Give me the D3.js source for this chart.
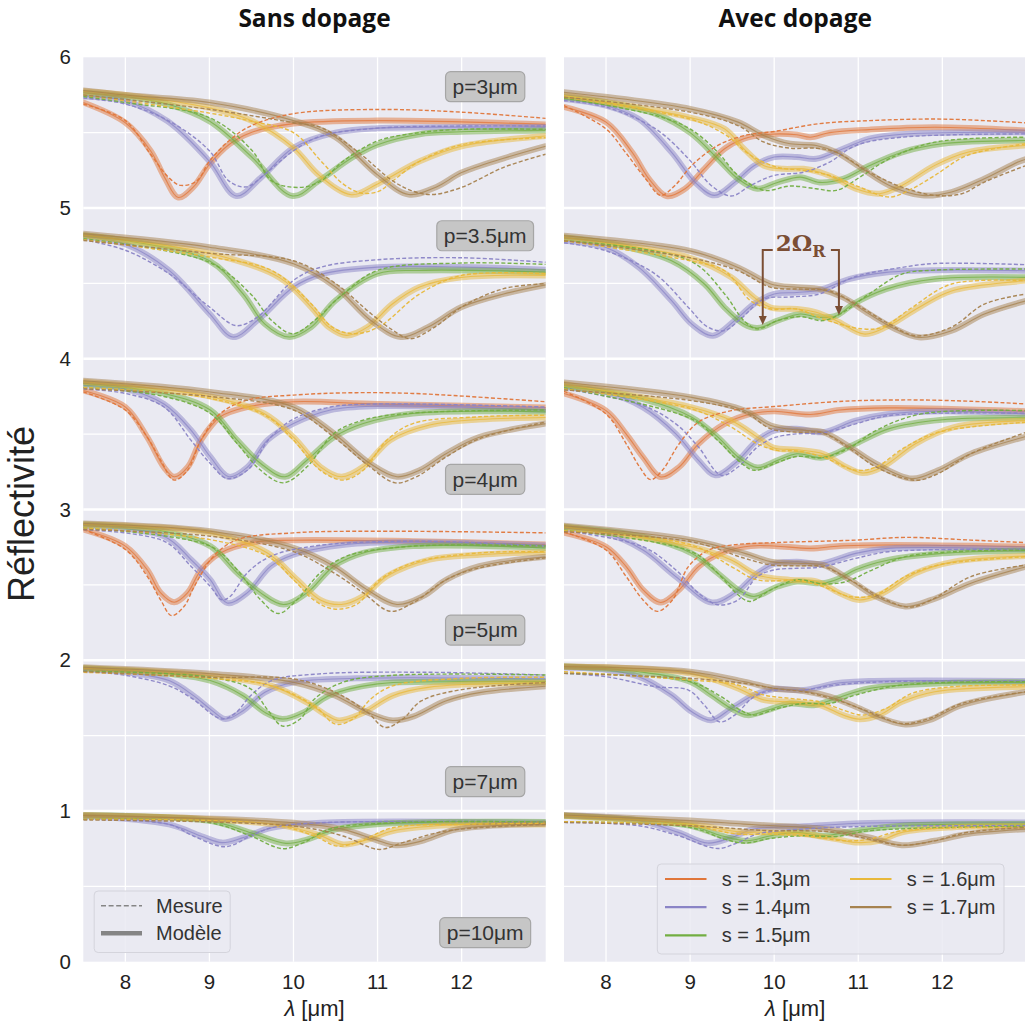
<!DOCTYPE html>
<html><head><meta charset="utf-8">
<script src="https://cdn.jsdelivr.net/npm/d3@7"></script>
<style>body{margin:0;background:#fff}</style>
</head><body>
<svg id="c" width="1025" height="1026" xmlns="http://www.w3.org/2000/svg"></svg>
<script>
// ---------- categories / labels ----------
const sValues = ["s = 1.3μm","s = 1.4μm","s = 1.5μm","s = 1.6μm","s = 1.7μm"];
const colors = ["#e0763a","#8a84c6","#72ae42","#e8b83a","#a6824f"];
const pLabels = ["p=3μm","p=3.5μm","p=4μm","p=5μm","p=7μm","p=10μm"];
const offsets = [5,4,3,2,1,0];
const labelY = [5.805,4.816,3.2,2.2,1.194,0.193];
const labelX = 12.28;
const xTicks = [8,9,10,11,12];
const yTicks = [0,1,2,3,4,5,6];
const panelTitles = ["Sans dopage","Avec dopage"];
const rabiX = [9.864, 10.77];
const rabiTipY = [4.224, 4.29];
const rabiTopY = 4.722;

// ---------- data: flat [λ, R, λ, R, ...] per s (1.3..1.7); null = absent ----------
// Sans dopage
const sans_p3_mod = [
 [7.5,.70, 8,.566, 8.3,.38, 8.47,.20, 8.63,.07, 8.81,.14, 9.0,.29, 9.23,.42, 9.49,.50, 10,.56, 11,.58, 13,.555],
 [7.5,.74, 8,.71, 8.5,.577, 9.0,.31, 9.32,.08, 9.61,.20, 10,.40, 10.5,.50, 11,.53, 12,.537, 13,.537],
 [7.5,.765, 8,.74, 8.5,.69, 9,.577, 9.51,.335, 9.99,.08, 10.3,.18, 10.7,.335, 11,.42, 11.5,.49, 12,.506, 13,.515],
 [7.5,.775, 8,.75, 9,.665, 9.51,.577, 10,.40, 10.3,.22, 10.69,.088, 11,.16, 11.5,.31, 12,.41, 13,.478],
 [7.5,.78, 8,.75, 9,.70, 10,.58, 10.5,.47, 11,.22, 11.37,.09, 11.7,.14, 12,.235, 12.5,.33, 13,.41]];
const sans_p3_mes = [
 [7.5,.69, 8,.58, 8.3,.357, 8.52,.20, 8.66,.15, 8.85,.18, 9.0,.31, 9.23,.445, 9.49,.544, 10,.626, 11,.654, 12,.636, 13,.595],
 [7.5,.73, 8,.69, 8.52,.577, 9.0,.38, 9.23,.18, 9.44,.14, 9.66,.225, 10,.38, 10.33,.478, 11,.53, 12,.544, 13,.544],
 [7.5,.74, 8,.70, 9,.60, 9.51,.38, 9.74,.18, 10.08,.137, 10.33,.18, 10.59,.31, 11,.445, 11.5,.50, 12,.522, 13,.522],
 [7.5,.75, 9,.63, 9.49,.577, 10,.50, 10.33,.31, 10.59,.16, 10.8,.10, 11.01,.11, 11.18,.18, 11.5,.31, 12,.42, 13,.467],
 [7.5,.75, 9,.655, 10,.566, 10.33,.533, 10.75,.38, 11.18,.18, 11.43,.11, 11.66,.09, 12,.137, 12.5,.27, 13,.357]];
const sans_p35_mod = [null,
 [7.5,.81, 8,.76, 8.52,.586, 9.0,.30, 9.28,.144, 9.57,.254, 10,.476, 10.33,.56, 11,.608, 12,.608, 13,.59],
 [7.5,.82, 8,.785, 9,.65, 9.40,.43, 9.66,.23, 9.95,.144, 10.21,.21, 10.5,.387, 11,.564, 11.5,.586, 13,.575],
 [7.5,.82, 9,.70, 9.83,.54, 10.21,.343, 10.42,.21, 10.63,.155, 10.88,.21, 11.18,.365, 11.5,.476, 12,.54, 13,.553],
 [7.5,.83, 9,.74, 10,.63, 10.5,.476, 10.92,.254, 11.28,.144, 11.6,.21, 12,.343, 12.5,.43, 13,.49]];
const sans_p35_mes = [null,
 [7.5,.79, 8,.72, 8.52,.564, 9,.343, 9.32,.22, 9.57,.277, 10,.52, 10.33,.608, 11,.657, 12,.67, 13,.64],
 [7.5,.796, 9,.64, 9.49,.43, 9.74,.254, 9.99,.166, 10.25,.254, 10.59,.43, 11,.586, 12,.635, 13,.626],
 [7.5,.79, 9,.675, 9.74,.586, 10.21,.365, 10.46,.21, 10.71,.166, 11.01,.21, 11.5,.43, 12,.553, 13,.564],
 [7.5,.785, 9,.70, 10,.65, 10.5,.50, 10.92,.30, 11.18,.19, 11.39,.133, 11.68,.21, 12,.343, 12.5,.465, 13,.498]];
const sans_p4_mod = [
 [7.5,.79, 8,.68, 8.26,.48, 8.46,.28, 8.58,.217, 8.74,.28, 8.90,.46, 9.13,.615, 9.45,.68, 10,.715, 11,.70, 13,.677],
 [7.5,.825, 8,.80, 8.46,.70, 8.78,.527, 9.01,.35, 9.23,.217, 9.45,.28, 9.69,.46, 10,.57, 10.44,.66, 11,.686, 13,.66],
 [7.5,.836, 8.46,.77, 9.01,.66, 9.33,.46, 9.61,.305, 9.90,.217, 10.16,.327, 10.48,.48, 10.83,.57, 11.42,.637, 13,.648],
 [7.5,.847, 9.01,.75, 9.65,.637, 10,.48, 10.32,.283, 10.57,.217, 10.83,.283, 11.15,.46, 11.62,.56, 12.21,.597, 13,.61],
 [7.5,.854, 9.01,.78, 10,.68, 10.48,.504, 10.91,.305, 11.23,.217, 11.50,.26, 11.82,.372, 12.21,.48, 13,.57]];
const sans_p4_mes = [
 [7.5,.78, 8,.66, 8.26,.48, 8.42,.327, 8.58,.195, 8.74,.26, 8.90,.46, 9.13,.637, 9.45,.726, 10,.759, 10.63,.774, 11.42,.77, 13,.715],
 [7.5,.80, 8,.77, 8.46,.68, 8.78,.46, 9.01,.305, 9.21,.206, 9.45,.26, 9.73,.48, 10,.60, 10.44,.68, 11,.70, 13,.68],
 [7.5,.81, 8.46,.75, 9.01,.637, 9.33,.438, 9.61,.26, 9.88,.177, 10.16,.283, 10.48,.504, 10.83,.593, 11.42,.64, 13,.66],
 [7.5,.81, 9.01,.737, 9.69,.615, 10,.46, 10.32,.26, 10.59,.195, 10.83,.26, 11.11,.46, 11.42,.57, 12.21,.615, 13,.626],
 [7.5,.80, 9.01,.75, 10,.66, 10.48,.48, 10.91,.283, 11.21,.177, 11.46,.217, 11.82,.35, 12.21,.47, 13,.58]];
const sans_p5_mod = [
 [7.5,.867, 8,.757, 8.26,.60, 8.42,.447, 8.58,.385, 8.74,.447, 8.90,.60, 9.13,.712, 9.53,.783, 10,.796, 11.42,.79, 13,.768],
 [7.5,.894, 8.46,.823, 8.78,.668, 9.01,.535, 9.21,.38, 9.45,.447, 9.73,.624, 10,.70, 10.63,.768, 11.42,.783, 13,.761],
 [7.5,.90, 8.46,.856, 9.01,.757, 9.33,.58, 9.61,.447, 9.88,.37, 10.16,.447, 10.48,.624, 10.83,.712, 11.42,.757, 13,.745],
 [7.5,.90, 9.01,.845, 9.69,.712, 10.04,.535, 10.32,.40, 10.57,.37, 10.83,.425, 11.11,.557, 11.62,.668, 12.21,.70, 13,.717],
 [7.5,.907, 9.01,.856, 10,.746, 10.48,.624, 10.87,.47, 11.23,.37, 11.54,.425, 11.82,.535, 12.21,.624, 13,.686]];
const sans_p5_mes = [
 [7.5,.867, 8,.735, 8.26,.557, 8.42,.40, 8.55,.296, 8.70,.358, 8.82,.49, 9.05,.69, 9.33,.80, 10,.845, 11,.856, 13,.845],
 [7.5,.867, 8.46,.79, 8.78,.624, 9.01,.49, 9.15,.40, 9.25,.425, 9.45,.58, 9.73,.69, 10.24,.757, 11.42,.79, 13,.757],
 [7.5,.878, 9.01,.757, 9.33,.60, 9.61,.40, 9.82,.31, 10.04,.40, 10.32,.58, 10.63,.69, 11.42,.757, 13,.757],
 [7.5,.878, 9.01,.80, 9.69,.69, 10,.535, 10.24,.40, 10.48,.34, 10.75,.37, 11.03,.535, 11.42,.646, 12.21,.712, 13,.72],
 [7.5,.867, 9.01,.823, 10,.72, 10.48,.58, 10.83,.447, 11.15,.325, 11.42,.38, 11.82,.535, 12.21,.613, 13,.68]];
const sans_p7_mod = [null,
 [7.5,.938, 8,.92, 8.52,.865, 8.81,.765, 9.01,.676, 9.19,.61, 9.40,.665, 9.66,.787, 10,.854, 10.75,.88, 13,.876],
 [7.5,.947, 8.52,.91, 9.01,.865, 9.40,.765, 9.66,.654, 9.87,.61, 10.12,.654, 10.42,.765, 11,.843, 12,.858, 13,.858],
 [7.5,.947, 9.01,.898, 9.74,.83, 10.16,.72, 10.37,.643, 10.54,.60, 10.80,.643, 11.18,.765, 11.60,.82, 13,.85],
 [7.5,.953, 9.01,.91, 10,.854, 10.50,.765, 10.88,.654, 11.18,.60, 11.43,.628, 11.81,.73, 12.23,.787, 13,.827]];
const sans_p7_mes = [null,
 [7.5,.93, 8,.90, 8.52,.83, 8.81,.74, 9.06,.63, 9.17,.61, 9.32,.654, 9.49,.765, 9.74,.865, 10.33,.91, 11.6,.92, 13,.902],
 [7.5,.927, 9.01,.887, 9.49,.81, 9.70,.665, 9.87,.563, 10.08,.61, 10.25,.743, 10.59,.854, 11.18,.90, 13,.902],
 [7.5,.92, 9.01,.88, 9.74,.83, 10.25,.696, 10.50,.576, 10.71,.61, 10.92,.743, 11.18,.83, 12.02,.88, 13,.887],
 [7.5,.925, 9.01,.887, 10,.876, 10.50,.787, 10.88,.654, 11.09,.554, 11.30,.61, 11.52,.73, 12.02,.807, 13,.852]];
const sans_p10_mod = [null,
 [7.5,.967, 8.52,.911, 8.90,.834, 9.15,.79, 9.40,.823, 9.74,.889, 10.33,.922, 13,.922],
 [7.5,.971, 9.01,.934, 9.49,.856, 9.91,.785, 10.16,.81, 10.50,.878, 11.18,.918, 13,.927],
 [7.5,.971, 9.01,.945, 9.91,.90, 10.33,.834, 10.59,.778, 10.88,.81, 11.18,.867, 11.81,.905, 13,.911],
 [7.5,.971, 10,.922, 10.59,.878, 10.97,.81, 11.22,.772, 11.52,.80, 11.94,.878, 13,.916]];
const sans_p10_mes = [null,
 [7.5,.945, 8.52,.911, 8.81,.834, 9.19,.763, 9.49,.834, 9.74,.889, 10.33,.922, 13,.927],
 [7.5,.945, 9.01,.922, 9.49,.834, 9.87,.75, 10.12,.79, 10.42,.878, 11.18,.922, 13,.927],
 [7.5,.945, 9.74,.911, 10.25,.834, 10.52,.767, 10.80,.80, 11.18,.889, 12.02,.911, 13,.918],
 [7.5,.94, 10,.90, 10.59,.834, 11.01,.745, 11.30,.79, 11.81,.867, 13,.911]];

// Avec dopage
const avec_p3_mod = [
 [7.5,.67, 8,.57, 8.31,.37, 8.51,.194, 8.72,.08, 8.94,.128, 9.17,.26, 9.41,.393, 9.64,.46, 9.96,.49, 10.27,.486, 10.43,.47, 10.66,.50, 11.13,.52, 11.91,.536, 13,.514],
 [7.5,.724, 8,.68, 8.39,.59, 8.78,.37, 9.06,.17, 9.29,.084, 9.53,.17, 9.76,.28, 10,.338, 10.27,.338, 10.50,.327, 10.82,.393, 11.13,.46, 11.52,.49, 13,.503],
 [7.5,.735, 8,.70, 8.59,.625, 9,.50, 9.33,.327, 9.57,.194, 9.80,.128, 10.04,.17, 10.31,.205, 10.54,.17, 10.82,.194, 11.13,.28, 11.52,.37, 12,.426, 13,.448],
 [7.5,.746, 9,.60, 9.41,.525, 9.64,.393, 9.88,.28, 10.11,.26, 10.35,.26, 10.54,.238, 10.74,.194, 10.97,.128, 11.25,.095, 11.52,.15, 11.91,.283, 12.30,.37, 13,.415],
 [7.5,.768, 9,.658, 9.57,.57, 9.88,.48, 10.19,.426, 10.50,.415, 10.74,.37, 11.05,.26, 11.37,.15, 11.76,.084, 12.11,.106, 12.5,.194, 12.9,.305, 13,.325]];
const avec_p3_mes = [
 [7.5,.68, 8,.525, 8.23,.37, 8.47,.194, 8.65,.084, 8.82,.15, 9.02,.283, 9.33,.415, 9.64,.48, 10,.508, 10.54,.56, 11.13,.58, 12,.59, 13,.565],
 [7.5,.713, 8,.67, 8.59,.525, 8.98,.327, 9.25,.15, 9.49,.08, 9.72,.15, 10,.216, 10.35,.238, 10.66,.305, 10.97,.415, 11.52,.47, 13,.492],
 [7.5,.73, 8.59,.614, 9,.525, 9.33,.37, 9.57,.216, 9.88,.117, 10.19,.146, 10.50,.128, 10.74,.117, 11.05,.216, 11.37,.327, 11.91,.437, 13,.47],
 [7.5,.735, 9,.59, 9.41,.49, 9.72,.35, 10.04,.27, 10.35,.25, 10.66,.216, 10.97,.15, 11.37,.073, 11.64,.128, 11.91,.216, 12.30,.35, 13,.426],
 [7.5,.735, 9,.636, 9.57,.547, 9.88,.437, 10.19,.397, 10.50,.397, 10.74,.37, 11.13,.238, 11.52,.139, 11.91,.084, 12.23,.095, 12.5,.172, 13,.283]];
const avec_p35_mod = [null,
 [7.5,.783, 8,.738, 8.39,.606, 8.78,.385, 9.02,.23, 9.27,.153, 9.53,.253, 9.76,.363, 10,.43, 10.27,.44, 10.54,.456, 10.90,.53, 11.33,.573, 11.91,.588, 13,.584],
 [7.5,.805, 8,.77, 8.78,.65, 9.17,.496, 9.41,.34, 9.64,.23, 9.80,.204, 10.04,.253, 10.31,.297, 10.54,.275, 10.74,.286, 10.94,.363, 11.33,.462, 11.91,.529, 13,.54],
 [7.5,.805, 9,.67, 9.49,.54, 9.76,.407, 9.96,.34, 10.27,.33, 10.50,.308, 10.74,.253, 11.07,.164, 11.33,.21, 11.72,.34, 12.11,.45, 13,.518],
 [7.5,.816, 9,.716, 9.57,.606, 9.96,.496, 10.27,.474, 10.54,.462, 10.82,.407, 11.13,.297, 11.44,.198, 11.72,.142, 12.11,.186, 12.5,.297, 13,.385]];
const avec_p35_mes = [null,
 [7.5,.77, 8,.716, 8.59,.56, 8.98,.34, 9.21,.21, 9.41,.187, 9.60,.264, 9.88,.396, 10.19,.41, 10.54,.43, 10.94,.54, 11.52,.606, 11.91,.632, 13,.624],
 [7.5,.783, 9,.65, 9.41,.43, 9.64,.253, 9.80,.198, 10.04,.253, 10.31,.28, 10.58,.253, 10.82,.308, 11.13,.43, 11.52,.562, 11.91,.588, 13,.595],
 [7.5,.783, 9,.65, 9.41,.584, 9.72,.385, 9.96,.33, 10.27,.33, 10.58,.264, 11.05,.198, 11.29,.21, 11.64,.34, 12.11,.496, 13,.518],
 [7.5,.783, 9,.67, 9.57,.584, 9.96,.474, 10.35,.462, 10.66,.45, 10.97,.363, 11.37,.23, 11.68,.153, 12.11,.21, 12.5,.363, 13,.43]];
const avec_p4_mod = [
 [7.5,.77, 8,.656, 8.24,.50, 8.44,.348, 8.65,.216, 8.87,.282, 9.10,.436, 9.41,.568, 9.72,.634, 10,.652, 10.43,.63, 10.78,.66, 11.36,.674, 13,.652],
 [7.5,.81, 8,.777, 8.44,.678, 8.83,.502, 9.10,.326, 9.30,.227, 9.53,.304, 9.80,.458, 10,.524, 10.27,.535, 10.58,.513, 10.97,.59, 11.36,.634, 12,.652, 13,.634],
 [7.5,.82, 8.44,.733, 9.02,.612, 9.33,.48, 9.57,.348, 9.80,.278, 10.04,.326, 10.27,.37, 10.58,.344, 10.97,.436, 11.36,.535, 12,.595, 13,.608],
 [7.5,.833, 9.02,.678, 9.49,.59, 9.80,.48, 9.99,.41, 10.27,.396, 10.58,.37, 10.82,.293, 11.05,.242, 11.29,.282, 11.68,.436, 12.14,.546, 13,.59],
 [7.5,.843, 9.02,.744, 9.65,.656, 9.96,.557, 10.27,.528, 10.58,.513, 10.90,.414, 11.21,.304, 11.64,.205, 11.95,.26, 12.34,.37, 13,.485]];
const avec_p4_mes = [
 [7.5,.784, 8,.634, 8.24,.436, 8.40,.282, 8.53,.198, 8.67,.26, 8.87,.436, 9.10,.58, 9.49,.656, 10,.683, 10.82,.718, 11.60,.727, 12.34,.718, 13,.70],
 [7.5,.80, 8.44,.69, 8.83,.568, 9.10,.414, 9.37,.227, 9.57,.282, 9.80,.414, 10,.476, 10.27,.502, 10.58,.507, 10.97,.568, 11.36,.623, 13,.639],
 [7.5,.806, 9.02,.60, 9.33,.458, 9.57,.326, 9.76,.26, 10,.304, 10.27,.352, 10.58,.344, 10.90,.41, 11.21,.524, 11.75,.634, 13,.656],
 [7.5,.80, 9.02,.667, 9.49,.546, 9.80,.436, 10.04,.392, 10.27,.388, 10.58,.348, 10.97,.26, 11.21,.282, 11.56,.414, 11.95,.513, 13,.579],
 [7.5,.793, 9.02,.722, 9.65,.645, 9.96,.535, 10.27,.513, 10.58,.507, 10.90,.403, 11.21,.282, 11.68,.194, 11.95,.238, 12.34,.37, 13,.513]];
const avec_p5_mod = [
 [7.5,.846, 8,.753, 8.24,.621, 8.44,.467, 8.65,.383, 8.87,.467, 9.10,.621, 9.41,.72, 9.72,.758, 10,.758, 10.43,.742, 10.78,.758, 11.36,.764, 13,.753],
 [7.5,.874, 8,.841, 8.44,.731, 8.83,.555, 9.26,.383, 9.53,.445, 9.80,.577, 10,.639, 10.27,.654, 10.54,.639, 10.97,.709, 11.36,.742, 13,.736],
 [7.5,.885, 8.44,.819, 9.02,.709, 9.33,.577, 9.57,.467, 9.76,.423, 10.04,.489, 10.27,.522, 10.58,.511, 10.78,.544, 10.97,.60, 11.36,.665, 12,.709, 13,.727],
 [7.5,.885, 9.02,.753, 9.49,.665, 9.80,.566, 10.19,.533, 10.51,.522, 10.78,.445, 11.01,.40, 11.29,.445, 11.68,.577, 12.14,.654, 13,.692],
 [7.5,.892, 9.02,.797, 9.65,.709, 9.96,.654, 10.27,.643, 10.58,.632, 10.90,.533, 11.21,.423, 11.56,.357, 11.87,.40, 12.34,.511, 13,.621]];
const avec_p5_mes = [
 [7.5,.852, 8,.731, 8.24,.555, 8.44,.40, 8.61,.324, 8.79,.40, 8.98,.621, 9.22,.731, 9.49,.764, 10,.78, 10.97,.797, 11.56,.815, 12.34,.797, 13,.78],
 [7.5,.859, 8.44,.753, 8.83,.599, 9.10,.445, 9.33,.368, 9.57,.40, 9.80,.555, 10,.599, 10.27,.61, 10.54,.617, 10.97,.676, 11.36,.72, 13,.736],
 [7.5,.863, 9.02,.72, 9.33,.577, 9.57,.434, 9.71,.39, 9.96,.467, 10.27,.533, 10.58,.507, 10.86,.522, 11.17,.60, 11.56,.687, 12.14,.72, 13,.731],
 [7.5,.859, 9.02,.764, 9.49,.621, 9.80,.533, 10.27,.529, 10.58,.489, 10.82,.434, 10.97,.418, 11.21,.434, 11.56,.555, 11.95,.632, 13,.687],
 [7.5,.852, 9.02,.786, 9.65,.676, 9.96,.632, 10.27,.626, 10.58,.621, 10.90,.533, 11.29,.412, 11.60,.352, 11.87,.40, 12.34,.555, 13,.632]];
const avec_p7_mod = [null,
 [7.5,.951, 8,.936, 8.39,.891, 8.78,.769, 9.02,.658, 9.25,.602, 9.49,.68, 9.76,.769, 10,.809, 10.35,.802, 10.74,.847, 11.13,.862, 13,.862],
 [7.5,.958, 8.39,.924, 9,.858, 9.25,.769, 9.49,.68, 9.68,.636, 9.92,.669, 10.19,.713, 10.47,.702, 10.74,.747, 11.13,.813, 12,.847, 13,.853],
 [7.5,.958, 9,.913, 9.57,.813, 9.88,.736, 10.19,.724, 10.54,.702, 10.82,.636, 11.01,.609, 11.25,.636, 11.52,.724, 11.91,.791, 13,.824],
 [7.5,.958, 9,.924, 9.64,.858, 10,.813, 10.35,.796, 10.66,.758, 10.97,.691, 11.29,.613, 11.56,.573, 11.84,.602, 12.23,.702, 13,.791]];
const avec_p7_mes = [null,
 [7.5,.913, 8,.891, 8.59,.824, 8.98,.802, 9.17,.702, 9.35,.591, 9.53,.636, 9.76,.758, 10,.802, 10.35,.802, 10.74,.836, 11.33,.858, 13,.862],
 [7.5,.913, 9,.858, 9.37,.758, 9.60,.669, 9.76,.636, 10.04,.68, 10.35,.713, 10.66,.713, 10.97,.769, 11.52,.836, 13,.858],
 [7.5,.924, 9,.869, 9.57,.836, 9.88,.769, 10.19,.747, 10.54,.724, 10.82,.669, 11.05,.636, 11.33,.68, 11.64,.78, 12.11,.824, 13,.836],
 [7.5,.913, 9,.88, 9.64,.847, 10,.813, 10.35,.791, 10.74,.736, 11.13,.658, 11.52,.58, 11.84,.613, 12.23,.713, 13,.791]];
const avec_p10_mod = [null,
 [7.5,.969, 8.39,.936, 8.86,.858, 9.21,.787, 9.49,.824, 9.76,.88, 10.35,.898, 11.13,.92, 13,.924],
 [7.5,.969, 9,.902, 9.37,.836, 9.68,.802, 9.96,.836, 10.27,.858, 10.58,.836, 10.97,.869, 11.52,.902, 13,.913],
 [7.5,.969, 9,.913, 9.57,.862, 9.96,.858, 10.35,.847, 10.74,.813, 10.97,.791, 11.25,.802, 11.52,.858, 12.11,.891, 13,.898],
 [7.5,.973, 9,.936, 9.64,.913, 10,.902, 10.35,.891, 10.74,.869, 11.13,.824, 11.52,.773, 11.91,.802, 12.30,.847, 13,.88]];
const avec_p10_mes = [null,
 [7.5,.924, 8.39,.902, 8.86,.836, 9.33,.751, 9.57,.791, 9.80,.847, 10.35,.88, 11.13,.898, 13,.902],
 [7.5,.929, 9,.891, 9.41,.813, 9.64,.787, 9.96,.818, 10.35,.836, 10.74,.831, 11.13,.869, 13,.898],
 [7.5,.929, 9,.902, 9.57,.847, 9.96,.847, 10.35,.836, 10.86,.802, 11.13,.813, 11.52,.869, 13,.891],
 [7.5,.924, 9,.902, 9.96,.869, 10.35,.869, 10.74,.858, 11.13,.813, 11.52,.773, 11.91,.802, 12.30,.858, 13,.891]];

const sansModel = [sans_p3_mod, sans_p35_mod, sans_p4_mod, sans_p5_mod, sans_p7_mod, sans_p10_mod];
const sansMeas  = [sans_p3_mes, sans_p35_mes, sans_p4_mes, sans_p5_mes, sans_p7_mes, sans_p10_mes];
const avecModel = [avec_p3_mod, avec_p35_mod, avec_p4_mod, avec_p5_mod, avec_p7_mod, avec_p10_mod];
const avecMeas  = [avec_p3_mes, avec_p35_mes, avec_p4_mes, avec_p5_mes, avec_p7_mes, avec_p10_mes];

// ---------- drawing ----------
const svg = d3.select("#c");
const PW = 462.4, yTop = 57.3, yBot = 961.7;
const panelX = [83.3, 564];
const xS = d3.scaleLinear().domain([7.5, 13]).range([0, PW]);
const yS = d3.scaleLinear().domain([0, 6]).range([yBot, yTop]);
const toPts = (a, off) => { const o = []; for (let i = 0; i < a.length; i += 2) o.push([a[i], a[i + 1] + off]); return o; };
const lineGen = d3.line().x(d => xS(d[0])).y(d => yS(d[1])).curve(d3.curveCatmullRom.alpha(0.5));
const FONT = "'Liberation Sans', Arial, sans-serif";

const defs = svg.append("defs");
[0, 1].forEach(pi => {
  defs.append("clipPath").attr("id", "clip" + pi)
    .append("rect").attr("x", 0).attr("y", yTop).attr("width", PW).attr("height", yBot - yTop);
});

function drawPanel(pi, models, meas) {
  const g = svg.append("g").attr("transform", `translate(${panelX[pi]},0)`);
  g.append("rect").attr("x", 0).attr("y", yTop).attr("width", PW).attr("height", yBot - yTop).attr("fill", "#eaeaf2");
  xTicks.forEach(t => g.append("line").attr("x1", xS(t)).attr("x2", xS(t)).attr("y1", yTop).attr("y2", yBot)
    .attr("stroke", "#fff").attr("stroke-width", 1.3));
  d3.range(1, 12).forEach(k => {
    const v = k / 2;
    g.append("line").attr("x1", 0).attr("x2", PW).attr("y1", yS(v)).attr("y2", yS(v))
      .attr("stroke", "#fff").attr("stroke-width", k % 2 === 0 ? 2.4 : 1.3);
  });
  const cg = g.append("g").attr("clip-path", `url(#clip${pi})`);
  models.forEach((grp, gi) => grp.forEach((c, si) => {
    if (!c) return;
    const p = toPts(c, offsets[gi]);
    cg.append("path").attr("d", lineGen(p)).attr("fill", "none").attr("stroke", colors[si])
      .attr("stroke-width", 6).attr("stroke-opacity", 0.5).attr("stroke-linecap", "round");
    cg.append("path").attr("d", lineGen(p)).attr("fill", "none").attr("stroke", colors[si])
      .attr("stroke-width", 1.1).attr("stroke-opacity", 0.75);
  }));
  meas.forEach((grp, gi) => grp.forEach((c, si) => {
    if (!c) return;
    cg.append("path").attr("d", lineGen(toPts(c, offsets[gi]))).attr("fill", "none").attr("stroke", colors[si])
      .attr("stroke-width", 1.4).attr("stroke-dasharray", "4,2.2").attr("stroke-opacity", 0.95);
  }));
  xTicks.forEach(t => g.append("text").attr("x", xS(t)).attr("y", 989).attr("text-anchor", "middle")
    .attr("font-family", FONT).attr("font-size", 20.5).attr("fill", "#222").text(t));
  const xl = g.append("text").attr("x", PW / 2).attr("y", 1016).attr("text-anchor", "middle")
    .attr("font-family", FONT).attr("font-size", 22).attr("fill", "#222");
  xl.append("tspan").attr("font-style", "italic").text("λ");
  xl.append("tspan").text(" [μm]");
  g.append("text").attr("x", PW / 2).attr("y", 27).attr("text-anchor", "middle")
    .attr("font-family", "'Open Sans', sans-serif").attr("font-weight", "bold").attr("font-size", 24.5)
    .attr("fill", "#111").text(panelTitles[pi]);
  return g;
}

const gL = drawPanel(0, sansModel, sansMeas);
const gR = drawPanel(1, avecModel, avecMeas);

yTicks.forEach(t => svg.append("text").attr("x", 71).attr("y", yS(t)).attr("dy", "0.35em").attr("text-anchor", "end")
  .attr("font-family", FONT).attr("font-size", 20.5).attr("fill", "#222").text(t));
svg.append("text").attr("transform", "translate(34,514) rotate(-90)").attr("text-anchor", "middle")
  .attr("font-family", FONT).attr("font-size", 36).attr("fill", "#222").text("Réflectivité");

pLabels.forEach((lab, i) => {
  const cx = xS(labelX), cy = yS(labelY[i]);
  const t = gL.append("text").attr("x", cx).attr("y", cy).attr("dy", "0.35em").attr("text-anchor", "middle")
    .attr("font-family", FONT).attr("font-size", 21).attr("fill", "#333").text(lab);
  const bb = t.node().getBBox();
  gL.insert("rect", () => t.node()).attr("x", bb.x - 7).attr("y", cy - 15).attr("width", bb.width + 14).attr("height", 30)
    .attr("rx", 5).attr("fill", "#c6c6c6").attr("stroke", "#a6a6a6").attr("stroke-width", 1.2);
});

{
  const lg = gL.append("g");
  lg.append("rect").attr("x", 94.2 - 83.3).attr("y", 891).attr("width", 136).attr("height", 61.5).attr("rx", 4)
    .attr("fill", "#eaeaf2").attr("fill-opacity", 0.85).attr("stroke", "#d4d4dc");
  const items = [["Mesure", true], ["Modèle", false]];
  items.forEach((it, i) => {
    const yy = 905.7 + i * 27.6;
    lg.append("line").attr("x1", 101 - 83.3).attr("x2", 142 - 83.3).attr("y1", yy).attr("y2", yy)
      .attr("stroke", "#858585").attr("stroke-width", it[1] ? 1.6 : 4.5)
      .attr("stroke-dasharray", it[1] ? "5,2.6" : null);
    lg.append("text").attr("x", 156 - 83.3).attr("y", yy).attr("dy", "0.35em").attr("font-family", FONT)
      .attr("font-size", 20).attr("fill", "#333").text(it[0]);
  });
}

{
  const lg = gR.append("g");
  const ox = 564;
  lg.append("rect").attr("x", 657.3 - ox).attr("y", 864).attr("width", 346.7).attr("height", 90).attr("rx", 4)
    .attr("fill", "#eaeaf2").attr("fill-opacity", 0.85).attr("stroke", "#d4d4dc");
  sValues.forEach((s, i) => {
    const col = i < 3 ? 0 : 1, row = i < 3 ? i : i - 3;
    const lx = col === 0 ? 665 : 850, tx = col === 0 ? 721.7 : 906.7;
    const yy = 879 + row * 28.2;
    lg.append("line").attr("x1", lx - ox).attr("x2", lx + 41.5 - ox).attr("y1", yy).attr("y2", yy)
      .attr("stroke", colors[i]).attr("stroke-width", 2.2);
    lg.append("text").attr("x", tx - ox).attr("y", yy).attr("dy", "0.35em").attr("font-family", FONT)
      .attr("font-size", 20).attr("fill", "#333").text(s);
  });
}

{
  const col = "#7b4e34";
  const a = gR.append("g");
  const xl = xS(rabiX[0]), xr = xS(rabiX[1]), yt = yS(rabiTopY);
  const yl = yS(rabiTipY[0]), yr = yS(rabiTipY[1]);
  a.append("path").attr("d", `M${xl},${yl - 8} V${yt} H${xl + 10}`).attr("fill", "none").attr("stroke", col).attr("stroke-width", 2);
  a.append("path").attr("d", `M${xr},${yr - 8} V${yt} H${xr - 8}`).attr("fill", "none").attr("stroke", col).attr("stroke-width", 2);
  a.append("path").attr("d", `M${xl - 4},${yl - 9} L${xl + 4},${yl - 9} L${xl},${yl} Z`).attr("fill", col);
  a.append("path").attr("d", `M${xr - 4},${yr - 9} L${xr + 4},${yr - 9} L${xr},${yr} Z`).attr("fill", col);
  const t = a.append("text").attr("x", xl + 13).attr("y", yt + 1).attr("text-anchor", "start")
    .attr("font-family", "'DejaVu Serif', 'Liberation Serif', serif").attr("font-weight", "bold")
    .attr("font-size", 23).attr("fill", col);
  t.append("tspan").text("2Ω");
  t.append("tspan").attr("font-size", 16).attr("dy", 6).text("R");
}
</script>
</body></html>
